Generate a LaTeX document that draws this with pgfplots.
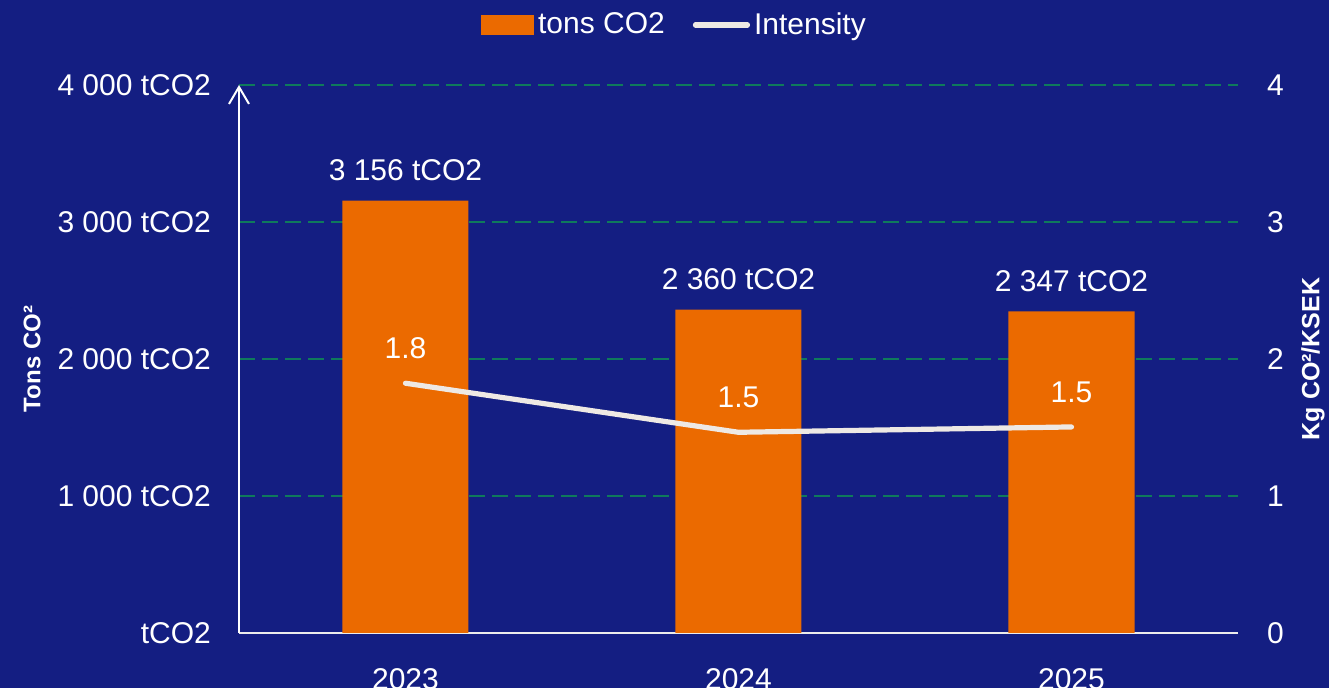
\documentclass[border=0pt]{standalone}
\usepackage{fontspec}
\setmainfont{Liberation Sans}
\usepackage{pgfplots}
\pgfplotsset{compat=1.18}
\usetikzlibrary{arrows.meta}
\definecolor{bg}{HTML}{141E82}
\definecolor{barorange}{HTML}{EB6A00}
\definecolor{linewhite}{HTML}{EEE9E4}
\definecolor{gridgreen}{HTML}{0F7A5C}
\begin{document}
\begin{tikzpicture}[font=\fontsize{15}{18}\selectfont]
\path[use as bounding box, fill=bg] (-119.5pt,-27.5pt) rectangle (545pt,316.5pt);
\begin{axis}[
  at={(0,0)}, anchor=south west,
  scale only axis, width=499.5pt, height=274pt,
  xmin=-0.5, xmax=2.5, ymin=0, ymax=4000,
  axis x line*=bottom, axis y line*=left,
  x axis line style={draw=white!85!gray, line width=1pt},
  y axis line style={draw=white, line width=1pt, -{Straight Barb[length=8.5pt,width=10pt,line width=1pt]}},
  xtick={0,1,2}, xticklabels={2023,2024,2025},
  ytick={0,1000,2000,3000,4000},
  yticklabels={tCO2,4\,000 tCO2,2\,000 tCO2,3\,000 tCO2,4\,000 tCO2},
  yticklabels={tCO2,1 000 tCO2,2 000 tCO2,3 000 tCO2,4 000 tCO2},
  tick style={draw=none},
  ticklabel style={text=white},
  yticklabel style={anchor=east, xshift=-10.5pt},
  xticklabel style={anchor=north, yshift=-14pt},
  ymajorgrids,
  grid style={draw=gridgreen, line width=1pt, dash pattern=on 8pt off 3.5pt},
  every axis y label/.style={at={(axis description cs:-0.2072,0.5)}, rotate=90, anchor=center},
  ylabel={\fontsize{12}{14}\selectfont\bfseries Tons CO²},
  ylabel style={text=white},
  clip=false,
]
\addplot[ybar, bar width=63pt, fill=barorange, draw=none,
  point meta=explicit symbolic,
  nodes near coords,
  every node near coord/.append style={text=white, anchor=center, yshift=15pt}]
  coordinates {(0,3156) [3 156 tCO2] (1,2360) [2 360 tCO2] (2,2347) [2 347 tCO2]};
\end{axis}
\begin{axis}[
  at={(0,0)}, anchor=south west,
  scale only axis, width=499.5pt, height=274pt,
  xmin=-0.5, xmax=2.5, ymin=0, ymax=4,
  axis x line=none, axis y line*=right,
  y axis line style={draw=none},
  ytick={0,1,2,3,4},
  tick style={draw=none},
  ticklabel style={text=white},
  yticklabel style={anchor=west, xshift=11pt},
  /pgf/number format/assume math mode=true,
  every axis y label/.style={at={(axis description cs:1.0751,0.5)}, rotate=90, anchor=center},
  ylabel={\fontsize{12.5}{14}\selectfont\bfseries Kg CO²/KSEK},
  ylabel style={text=white},
  clip=false,
  legend style={at={(axis description cs:0.437,1.1095)}, anchor=center, draw=none, fill=none, text=white,
    legend columns=2, /tikz/every even column/.append style={column sep=12pt}},
  legend cell align=left,
]
\addlegendimage{legend image code/.code={\fill[barorange] (0pt,-4.75pt) rectangle (26pt,4.75pt);}}
\addlegendentry{tons CO2}
\addplot[draw=linewhite, line width=2.6pt, line cap=round, line join=round,
  legend image code/.code={\draw[linewhite, line width=2.6pt, line cap=round] (0pt,0pt) -- (26pt,0pt);},
  point meta=explicit symbolic,
  nodes near coords,
  every node near coord/.append style={text=white, anchor=center, yshift=17.5pt}]
  coordinates {(0,1.823) [1.8] (1,1.465) [1.5] (2,1.504) [1.5]};
\addlegendentry{Intensity}
\end{axis}
\end{tikzpicture}
\end{document}
